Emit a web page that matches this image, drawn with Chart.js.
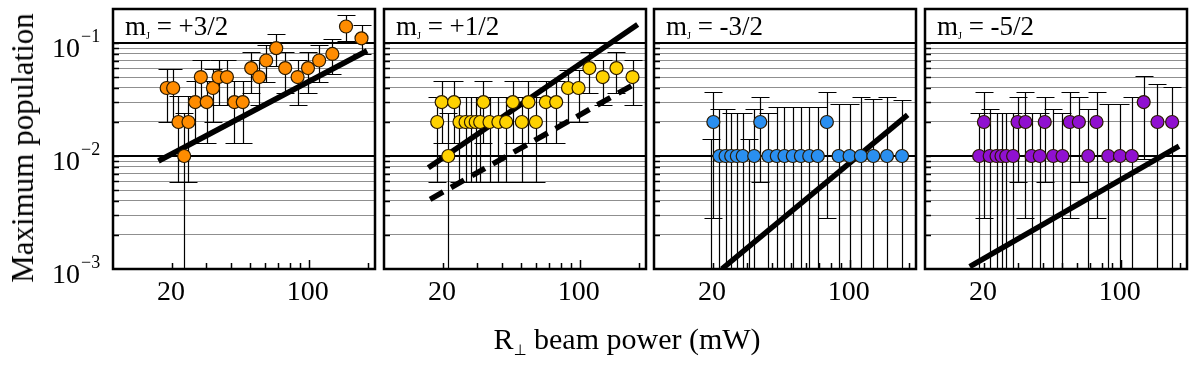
<!DOCTYPE html>
<html>
<head>
<meta charset="utf-8">
<script src="https://cdn.jsdelivr.net/npm/chart.js@4.4.0/dist/chart.umd.min.js"></script>
<style>
  body { margin: 0; background: #fff; }
  #wrap { position: relative; width: 1196px; height: 365px; overflow: hidden; font-family: 'Liberation Serif', 'Times New Roman', serif; }
  #wrap canvas { position: absolute; left: 0; top: 0; }
  #ytitle { position: absolute; left: 23px; top: 148px; transform: translate(-50%, -50%) rotate(-90deg); font-size: 31px; white-space: nowrap; }
  #xtitle { position: absolute; left: 627px; top: 340px; transform: translate(-50%, -50%); font-size: 30px; white-space: nowrap; }
  #xtitle sub { font-size: 15px; vertical-align: -6px; font-family: 'DejaVu Sans', sans-serif; }
</style>
</head>
<body>
<div id="wrap">
  <div id="ytitle">Maximum population</div>
  <div id="xtitle">R<sub>⊥</sub> beam power (mW)</div>
</div>
<script>
// axis ranges / labels
const xMin = 10, xMax = 218;
const yMin = 0.001, yMax = 0.2;
const xTickLabels = [20, 100];
const yTickExps = [-1, -2, -3];

// mJ = +3/2
const p1Power = [18.8, 20.3, 21.6, 23.1, 24.3, 26.3, 28.1, 30.1, 32.4, 34.6, 38.2, 41.7, 46.0, 50.8, 55.8, 60.6, 68.2, 75.8, 87.7, 99.1, 113, 132, 155, 186];
const p1Pop   = [0.04, 0.04, 0.02, 0.01, 0.02, 0.03, 0.05, 0.03, 0.04, 0.05, 0.05, 0.03, 0.03, 0.06, 0.05, 0.07, 0.09, 0.06, 0.05, 0.06, 0.07, 0.08, 0.14, 0.11];
const p1Lo    = [0.02, 0.02, 0.0059, 0, 0.0059, 0.013, 0.028, 0.013, 0.02, 0.028, 0.028, 0.013, 0.013, 0.036, 0.028, 0.045, 0.062, 0.036, 0.028, 0.036, 0.045, 0.053, 0.105, 0.08];
const p1Hi    = [0.059, 0.059, 0.034, 0.024, 0.034, 0.046, 0.071, 0.046, 0.059, 0.071, 0.071, 0.046, 0.046, 0.084, 0.071, 0.097, 0.119, 0.084, 0.071, 0.084, 0.097, 0.108, 0.176, 0.143];
const p1FitX = [17.06, 198.6];
const p1FitY = [0.00904, 0.0855];

// mJ = +1/2
const p2Power = [18.7, 19.7, 21.3, 22.8, 24.3, 26.1, 27.8, 29.4, 31.0, 32.2, 34.6, 38.4, 42.1, 45.5, 50.6, 54.7, 59.7, 67.1, 75.8, 87.1, 98.6, 112, 131, 154, 186];
const p2Pop   = [0.02, 0.03, 0.01, 0.03, 0.02, 0.02, 0.02, 0.02, 0.02, 0.03, 0.02, 0.02, 0.02, 0.03, 0.02, 0.03, 0.02, 0.03, 0.03, 0.04, 0.04, 0.06, 0.05, 0.06, 0.05];
const p2Lo    = [0.0059, 0.013, 0, 0.013, 0.0059, 0.0059, 0.0059, 0.0059, 0.0059, 0.013, 0.0059, 0.0059, 0.0059, 0.013, 0.0059, 0.013, 0.0059, 0.013, 0.013, 0.02, 0.02, 0.036, 0.028, 0.036, 0.028];
const p2Hi    = [0.0335, 0.046, 0.024, 0.046, 0.0335, 0.0335, 0.0335, 0.0335, 0.0335, 0.046, 0.0335, 0.0335, 0.0335, 0.046, 0.0335, 0.046, 0.0335, 0.046, 0.046, 0.058, 0.058, 0.084, 0.071, 0.084, 0.071];
const p2FitX = [16.85, 197.6];
const p2FitY = [0.00788, 0.146];
const p2DashX = [17.2, 196.2];
const p2DashY = [0.00414, 0.0446];

// mJ = -3/2  (null = zero population, only the error bar is drawn)
const p3Power = [19.5, 20.1, 21.6, 23.2, 24.8, 26.5, 28.4, 30.4, 32.5, 34.9, 38.4, 42.4, 46.4, 51.2, 56.3, 62.1, 68.7, 76.4, 87.7, 99.8, 114, 132, 155, 185];
const p3Pop   = [null, 0.02, 0.01, 0.01, 0.01, 0.01, 0.01, null, 0.01, 0.02, 0.01, 0.01, 0.01, 0.01, 0.01, 0.01, 0.01, 0.02, 0.01, 0.01, 0.01, 0.01, 0.01, 0.01];
const p3Lo    = [0, 0.0028, 0, 0, 0, 0, 0, 0, 0, 0.0059, 0, 0, 0, 0, 0, 0, 0, 0.0028, 0, 0, 0, 0, 0, 0];
const p3Hi    = [0.014, 0.037, 0.026, 0.026, 0.024, 0.024, 0.024, 0.014, 0.026, 0.0335, 0.024, 0.027, 0.027, 0.027, 0.027, 0.027, 0.027, 0.037, 0.029, 0.029, 0.0335, 0.0318, 0.0335, 0.0314];
const p3FitX = [22.2, 197.6];
const p3FitY = [0.001, 0.0231];

// mJ = -5/2
const p4Power = [18.9, 20.0, 21.4, 23.2, 24.6, 26.0, 28.2, 29.7, 32.6, 35.0, 38.6, 40.9, 45.2, 50.4, 54.9, 61.1, 68.2, 75.2, 86.3, 99.1, 114, 131, 154, 183];
const p4Pop   = [0.01, 0.02, 0.01, 0.01, 0.01, 0.01, 0.01, 0.02, 0.02, 0.01, 0.01, 0.02, 0.01, 0.01, 0.02, 0.02, 0.01, 0.02, 0.01, 0.01, 0.01, 0.03, 0.02, 0.02];
const p4Lo    = [0, 0.0028, 0, 0, 0, 0, 0, 0.0059, 0.0028, 0, 0, 0.0059, 0, 0, 0.0028, 0.0059, 0, 0.0028, 0, 0, 0, 0.0095, 0, 0];
const p4Hi    = [0.024, 0.037, 0.026, 0.024, 0.024, 0.024, 0.024, 0.0335, 0.037, 0.024, 0.024, 0.0335, 0.026, 0.024, 0.037, 0.0335, 0.026, 0.037, 0.029, 0.029, 0.0335, 0.051, 0.043, 0.041];
const p4FitX = [16.93, 198.5];
const p4FitY = [0.00105, 0.01226];

const panels = [
  { title: '+3/2', color: '#ff8c00', x: p1Power, y: p1Pop, lo: p1Lo, hi: p1Hi, fits: [[p1FitX, p1FitY, []]], left: 113, right: 375, yLabels: true },
  { title: '+1/2', color: '#ffd200', x: p2Power, y: p2Pop, lo: p2Lo, hi: p2Hi, fits: [[p2FitX, p2FitY, []], [p2DashX, p2DashY, [15, 9]]], left: 384, right: 646 },
  { title: '-3/2', color: '#2a8ff0', x: p3Power, y: p3Pop, lo: p3Lo, hi: p3Hi, fits: [[p3FitX, p3FitY, []]], left: 654, right: 916 },
  { title: '-5/2', color: '#9010d0', x: p4Power, y: p4Pop, lo: p4Lo, hi: p4Hi, fits: [[p4FitX, p4FitY, []]], left: 925, right: 1187 }
];

const SERIF = '"Liberation Serif", "Times New Roman", serif';

// only keep 1..9 x 10^n ticks (chart.js adds 1.5 x 10^n ones)
function niceLog(v) {
  const m = v / Math.pow(10, Math.floor(Math.log10(v) + 1e-9));
  return Math.abs(m - Math.round(m)) < 1e-6;
}
function isDecade(v) {
  const l = Math.log10(v);
  return Math.abs(l - Math.round(l)) < 1e-6;
}
function keepNice(scale) {
  scale.ticks = scale.ticks.filter(t => niceLog(t.value));
}

function makePanelPlugin(p) {
  return {
    id: 'panel',
    beforeDatasetsDraw(chart) {
      const { ctx, chartArea: a, scales: { x, y } } = chart;
      const yTop = y.getPixelForValue(0.1);
      ctx.save();
      // header box with the mJ label
      ctx.fillStyle = '#fff';
      ctx.fillRect(a.left, a.top, a.right - a.left, yTop - a.top);
      ctx.strokeStyle = '#000';
      ctx.lineWidth = 2;
      ctx.beginPath();
      ctx.moveTo(a.left, yTop);
      ctx.lineTo(a.right, yTop);
      ctx.stroke();

      ctx.fillStyle = '#000';
      ctx.textBaseline = 'alphabetic';
      ctx.textAlign = 'left';
      let tx = a.left + 12;
      const ty = a.top + 26;
      ctx.font = '27px ' + SERIF;
      ctx.fillText('m', tx, ty);
      tx += ctx.measureText('m').width;
      ctx.font = '10px ' + SERIF;
      ctx.fillText('J', tx, ty + 4);
      tx += ctx.measureText('J').width;
      ctx.font = '27px ' + SERIF;
      ctx.fillText(' = ' + p.title, tx, ty);

      // error bars
      ctx.beginPath();
      ctx.rect(a.left, a.top, a.right - a.left, a.bottom - a.top);
      ctx.clip();
      ctx.strokeStyle = '#000';
      ctx.lineWidth = 1.2;
      const cap = 9;
      p.x.forEach((xv, i) => {
        const px = Math.round(x.getPixelForValue(xv)) + 0.5;
        const top = Math.round(y.getPixelForValue(p.hi[i])) + 0.5;
        const bot = p.lo[i] > 0 ? Math.round(y.getPixelForValue(p.lo[i])) + 0.5 : a.bottom + 2;
        ctx.beginPath();
        ctx.moveTo(px, top);
        ctx.lineTo(px, bot);
        ctx.moveTo(px - cap, top);
        ctx.lineTo(px + cap, top);
        if (p.lo[i] > 0) {
          ctx.moveTo(px - cap, bot);
          ctx.lineTo(px + cap, bot);
        }
        ctx.stroke();
      });
      ctx.restore();
    },
    afterDraw(chart) {
      const { ctx, chartArea: a, scales: { x, y } } = chart;
      ctx.save();
      ctx.strokeStyle = '#000';
      // inward ticks
      ctx.lineWidth = 1.5;
      ctx.beginPath();
      x.ticks.forEach(t => {
        if (t.value <= xMin || t.value >= xMax) return;
        const px = Math.round(x.getPixelForValue(t.value)) + 0.5;
        const len = isDecade(t.value) ? 9 : 6;
        ctx.moveTo(px, a.bottom);
        ctx.lineTo(px, a.bottom - len);
      });
      y.ticks.forEach(t => {
        if (t.value <= yMin || t.value > 0.1) return;
        const py = Math.round(y.getPixelForValue(t.value)) + 0.5;
        ctx.moveTo(a.left, py);
        ctx.lineTo(a.left + 6, py);
      });
      ctx.stroke();
      // frame
      ctx.lineWidth = 2.5;
      ctx.strokeRect(a.left, a.top, a.right - a.left, a.bottom - a.top);

      // tick labels
      ctx.fillStyle = '#000';
      ctx.font = '28px ' + SERIF;
      ctx.textAlign = 'center';
      ctx.textBaseline = 'middle';
      xTickLabels.forEach(v => {
        ctx.fillText(String(v), x.getPixelForValue(v) - 1, a.bottom + 24);
      });
      if (p.yLabels) {
        yTickExps.forEach(e => {
          const py = y.getPixelForValue(Math.pow(10, e));
          ctx.font = '28px ' + SERIF;
          ctx.textAlign = 'right';
          ctx.textBaseline = 'middle';
          ctx.fillText('10', a.left - 33, py + 7);
          ctx.font = '18px ' + SERIF;
          ctx.textAlign = 'left';
          ctx.textBaseline = 'alphabetic';
          ctx.fillText('\u2212' + Math.abs(e), a.left - 32, py - 1);
        });
      }
      ctx.restore();
    }
  };
}

const wrap = document.getElementById('wrap');

panels.forEach(p => {
  const canvas = document.createElement('canvas');
  canvas.width = 1196;
  canvas.height = 365;
  wrap.insertBefore(canvas, wrap.firstChild);

  const points = p.x.map((v, i) => ({ x: v, y: p.y[i] }));
  const datasets = [{
    data: points,
    showLine: false,
    pointRadius: 6.5,
    pointBackgroundColor: p.color,
    pointBorderColor: '#2a1a00',
    pointBorderWidth: 1.2,
    order: 0
  }];
  p.fits.forEach(([fx, fy, dash]) => {
    datasets.push({
      type: 'line',
      data: fx.map((v, i) => ({ x: v, y: fy[i] })),
      showLine: true,
      borderColor: '#000',
      borderWidth: 5.5,
      borderDash: dash,
      pointRadius: 0,
      fill: false,
      order: 1
    });
  });

  new Chart(canvas, {
    type: 'scatter',
    data: { datasets: datasets },
    options: {
      responsive: false,
      animation: false,
      events: [],
      layout: { padding: { left: p.left, right: 1196 - p.right, top: 9, bottom: 96 } },
      scales: {
        x: {
          type: 'logarithmic', min: xMin, max: xMax,
          afterBuildTicks: keepNice,
          ticks: { display: false },
          grid: { display: false, drawTicks: false },
          border: { display: false }
        },
        y: {
          type: 'logarithmic', min: yMin, max: yMax,
          afterBuildTicks: keepNice,
          ticks: { display: false },
          grid: {
            drawTicks: false,
            color: c => (c.tick.value > 0.1001 ? 'rgba(0,0,0,0)' : (isDecade(c.tick.value) ? '#000' : '#8f8f8f')),
            lineWidth: c => (isDecade(c.tick.value) ? 2 : 1)
          },
          border: { display: false }
        }
      },
      plugins: { legend: { display: false }, tooltip: { enabled: false } }
    },
    plugins: [makePanelPlugin(p)]
  });
});
</script>
</body>
</html>
